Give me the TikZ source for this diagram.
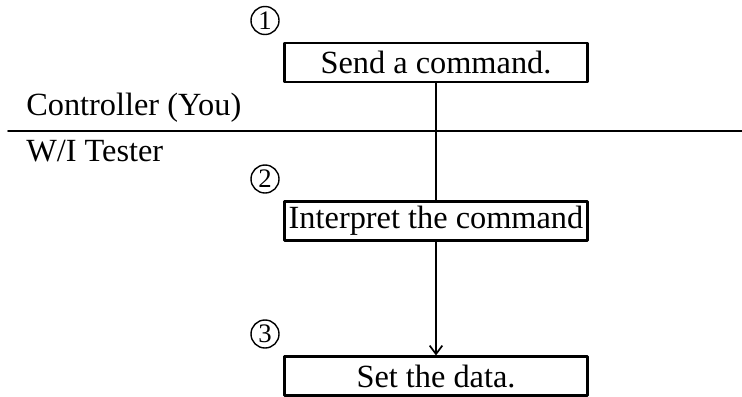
\documentclass[tikz,border=0pt]{standalone}
\usepackage{fontspec}
\setmainfont{Liberation Serif}
\usetikzlibrary{arrows.meta}
\begin{document}
\begin{tikzpicture}[x=0.025cm, y=-0.025cm, line cap=round, line join=round,
	>={Straight Barb[length=6pt,width=9pt]}, font=\fontsize{23}{27}\selectfont,
	cmdbox/.style={draw, line width=1.5pt, minimum width=7.575cm, minimum height=0.975cm, inner sep=0pt},
	stepno/.style={draw, circle, line width=1pt, minimum size=0.7cm, inner sep=0pt, font=\fontsize{19}{21}\selectfont},
	link/.style={line width=1.2pt}]
	\useasboundingbox (0,0) rectangle (742,396);
	% Trennlinie zwischen Controller und Tester
	\coordinate (L) at (8,131);
	\coordinate (R) at (742,131);
	\draw[link] (L) -- (R);
	\node[anchor=base west, inner sep=0pt] (ctrl) at (26,115) {Controller (You)};
	\node[anchor=base west, inner sep=0pt] (tester) at (26,161) {W/I Tester};
	% Schritte
	\foreach \n/\y/\t in {1/62.5/Send a command., 2/221/Interpret the command, 3/376/Set the data.} {
		\node[cmdbox] (B\n) at (436,\y) {\t};
		\node[stepno] (N\n) at (265,\y-42) {\n};
	}
	\draw[link] (B1) -- (B2);
	\draw[link,->] (B2) -- (B3);
\end{tikzpicture}
\end{document}
